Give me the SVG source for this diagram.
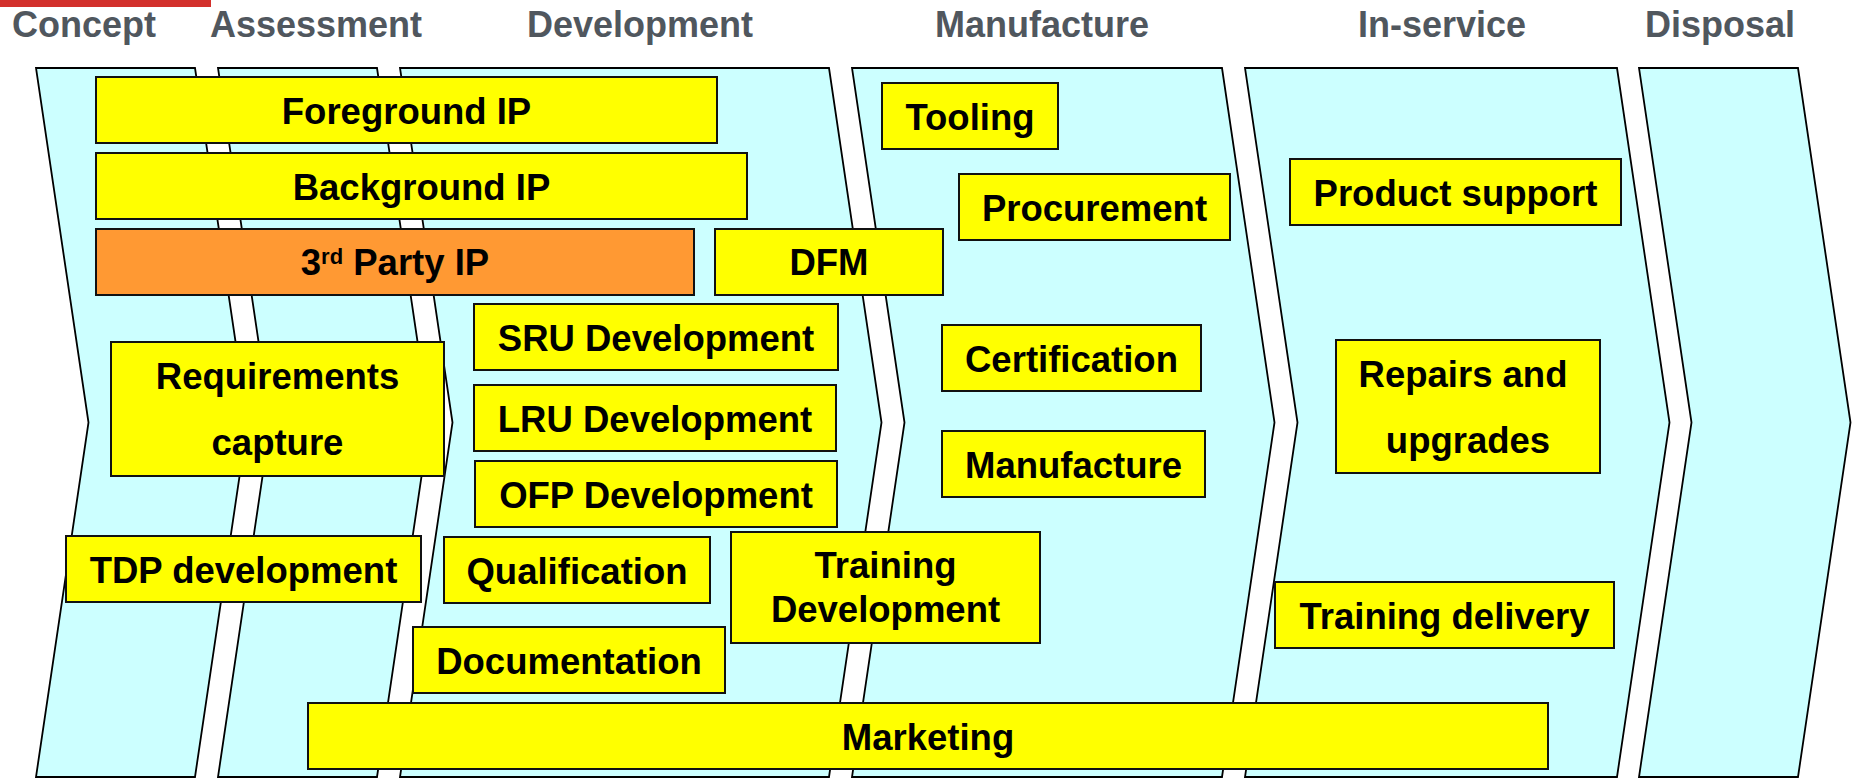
<svg xmlns="http://www.w3.org/2000/svg" width="1852" height="778" viewBox="0 0 1852 778">
<style>
.lane{fill:#ccffff;stroke:#000;stroke-width:1.8;stroke-linejoin:miter}
.box{fill:#ffff00;stroke:#111;stroke-width:2}
.orange{fill:#ff9933}
.t{font-family:"Liberation Sans",Arial,sans-serif;font-weight:bold;font-size:36.5px;fill:#000;text-anchor:middle}
.h{font-family:"Liberation Sans",Arial,sans-serif;font-weight:bold;font-size:36px;fill:#50575e;text-anchor:middle}
</style>
<rect width="1852" height="778" fill="#fff"/>
<rect x="0" y="0" width="211" height="7" fill="#d3302c"/>
<g id="headers">
<text class="h" x="84" y="37">Concept</text>
<text class="h" x="316" y="37">Assessment</text>
<text class="h" x="640" y="37">Development</text>
<text class="h" x="1042" y="37">Manufacture</text>
<text class="h" x="1442" y="37">In-service</text>
<text class="h" x="1720" y="37">Disposal</text>
</g>
<g id="lanes">
<polygon id="lane-concept" class="lane" points="36,68 195,68 247.5,422.5 195,777 36,777 88.5,422.5"/>
<polygon id="lane-assessment" class="lane" points="218,68 377,68 429.5,422.5 377,777 218,777 270.5,422.5"/>
<polygon id="lane-development" class="lane" points="400,68 829,68 881.5,422.5 829,777 400,777 452.5,422.5"/>
<polygon id="lane-manufacture" class="lane" points="852,68 1222,68 1274.5,422.5 1222,777 852,777 904.5,422.5"/>
<polygon id="lane-inservice" class="lane" points="1245,68 1617,68 1669.5,422.5 1617,777 1245,777 1297.5,422.5"/>
<polygon id="lane-disposal" class="lane" points="1639,68 1798,68 1850.5,422.5 1798,777 1639,777 1691.5,422.5"/>
</g>
<g id="connectors"></g>
<g id="n-foreground"><rect class="box" x="96" y="77" width="621" height="66"/><text class="t" x="406.5" y="124">Foreground IP</text></g>
<g id="n-background"><rect class="box" x="96" y="153" width="651" height="66"/><text class="t" x="421.5" y="200">Background IP</text></g>
<g id="n-3rdparty"><rect class="box orange" x="96" y="229" width="598" height="66"/><text class="t" x="395" y="275">3<tspan font-size="22" dy="-11">rd</tspan><tspan dy="11"> Party IP</tspan></text></g>
<g id="n-dfm"><rect class="box" x="715" y="229" width="228" height="66"/><text class="t" x="829" y="275">DFM</text></g>
<g id="n-tooling"><rect class="box" x="882" y="83" width="176" height="66"/><text class="t" x="970" y="129.5">Tooling</text></g>
<g id="n-procurement"><rect class="box" x="959" y="174" width="271" height="66"/><text class="t" x="1094.5" y="220.5">Procurement</text></g>
<g id="n-productsupport"><rect class="box" x="1290" y="159" width="331" height="66"/><text class="t" x="1455.5" y="205.5">Product support</text></g>
<g id="n-requirements"><rect class="box" x="111" y="342" width="333" height="134"/><text class="t" x="277.5" y="389">Requirements</text><text class="t" x="277.5" y="455">capture</text></g>
<g id="n-tdp"><rect class="box" x="66" y="536" width="355" height="66"/><text class="t" x="243.5" y="582.5">TDP development</text></g>
<g id="n-sru"><rect class="box" x="474" y="304" width="364" height="66"/><text class="t" x="656" y="350.5">SRU Development</text></g>
<g id="n-lru"><rect class="box" x="474" y="385" width="362" height="66"/><text class="t" x="655" y="431.5">LRU Development</text></g>
<g id="n-ofp"><rect class="box" x="475" y="461" width="362" height="66"/><text class="t" x="656" y="507.5">OFP Development</text></g>
<g id="n-qualification"><rect class="box" x="444" y="537" width="266" height="66"/><text class="t" x="577" y="583.5">Qualification</text></g>
<g id="n-documentation"><rect class="box" x="413" y="627" width="312" height="66"/><text class="t" x="569" y="673.5">Documentation</text></g>
<g id="n-trainingdev"><rect class="box" x="731" y="532" width="309" height="111"/><text class="t" x="885.5" y="578">Training</text><text class="t" x="885.5" y="622">Development</text></g>
<g id="n-certification"><rect class="box" x="942" y="325" width="259" height="66"/><text class="t" x="1071.5" y="371.5">Certification</text></g>
<g id="n-manufacture"><rect class="box" x="942" y="431" width="263" height="66"/><text class="t" x="1073.5" y="477.5">Manufacture</text></g>
<g id="n-repairs"><rect class="box" x="1336" y="340" width="264" height="133"/><text class="t" x="1463" y="387">Repairs and</text><text class="t" x="1468" y="452.5">upgrades</text></g>
<g id="n-trainingdelivery"><rect class="box" x="1275" y="582" width="339" height="66"/><text class="t" x="1444.5" y="628.5">Training delivery</text></g>
<g id="n-marketing"><rect class="box" x="308" y="703" width="1240" height="66"/><text class="t" x="928" y="749.5">Marketing</text></g>
</svg>
